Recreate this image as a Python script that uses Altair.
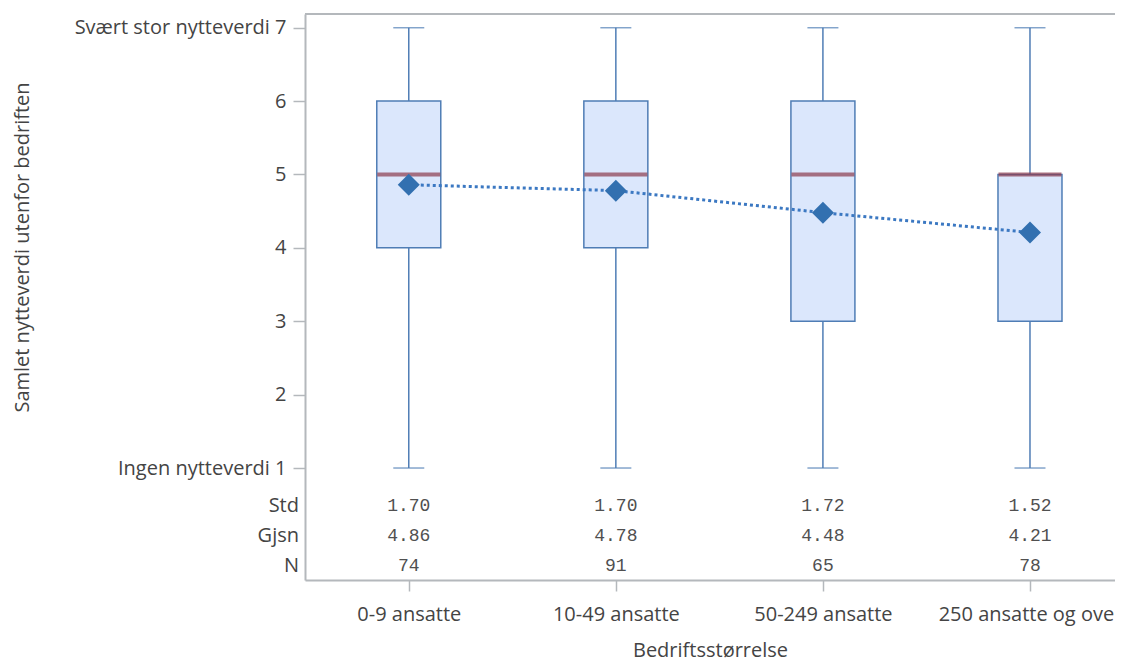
import altair as alt
import pandas as pd

categories = ["0-9 ansatte", "10-49 ansatte", "50-249 ansatte", "250 ansatte og over"]
whisker_low = [1, 1, 1, 1]
q1 = [4, 4, 3, 3]
median = [5, 5, 5, 5]
q3 = [6, 6, 6, 5]
whisker_high = [7, 7, 7, 7]
means = [4.86, 4.78, 4.48, 4.21]
std = [1.70, 1.70, 1.72, 1.52]
n = [74, 91, 65, 78]
ytick_values = [1, 2, 3, 4, 5, 6, 7]
ytick_labels = ["Ingen nytteverdi 1", "2", "3", "4", "5", "6", "Svært stor nytteverdi 7"]
stat_rows = ["Std", "Gjsn", "N"]

idx = list(range(len(categories)))
df = pd.DataFrame({
    "idx": idx, "cat": categories, "lo": whisker_low, "q1": q1, "med": median,
    "q3": q3, "hi": whisker_high, "mean": means, "std": std, "n": n,
})

y_label_expr = " : ".join(
    f"datum.value == {v} ? '{l}'" for v, l in zip(ytick_values, ytick_labels)
) + " : datum.label"
x_label_expr = " : ".join(
    f"datum.value == {i} ? '{c}'" for i, c in zip(idx, categories)
) + " : ''"

GREY = "#b4b8bc"
TXT = "#444444"
BLUE_LINE = "#4f7db5"
FONT = "Open Sans"

PLOT_W = 810
PLOT_H = 566

xscale = alt.Scale(domain=[-0.477, 3.3864], nice=False, zero=False)
xenc = alt.X(
    "idx:Q", scale=xscale,
    axis=alt.Axis(values=idx, labelExpr=x_label_expr, grid=False, labelAngle=0,
                  tickSize=11, title="Bedriftsstørrelse", titlePadding=16, labelPadding=13,
                  titleFontSize=20, titleFontWeight="normal", titleColor=TXT),
)
xe = alt.X("idx:Q", scale=xscale)
yscale = alt.Scale(domain=[-0.526, 7.187], nice=False, zero=False)
yenc = alt.Y(
    "q1:Q", scale=yscale,
    axis=alt.Axis(values=ytick_values, labelExpr=y_label_expr, grid=False,
                  tickSize=12, labelPadding=7,
                  title="Samlet nytteverdi utenfor bedriften", titleFontSize=20,
                  titleFontWeight="normal", titleColor=TXT, titleX=-283, titleY=233,
                  titleAngle=-90, titleAlign="center", titleBaseline="middle"),
)

base = alt.Chart(df)

border = base.mark_rule(color=GREY, strokeWidth=2).encode(
    x=alt.value(0), x2=alt.value(PLOT_W + 20), y=alt.value(0))
box = base.mark_bar(size=64, fill="#dbe7fc", stroke=BLUE_LINE, strokeWidth=1.5).encode(
    x=xenc, y=yenc, y2="q3:Q")
wlow = base.mark_rule(color=BLUE_LINE, strokeWidth=1.5).encode(
    x=xe, y=alt.Y("lo:Q", scale=yscale), y2="q1:Q")
whigh = base.mark_rule(color=BLUE_LINE, strokeWidth=1.5).encode(
    x=xe, y=alt.Y("q3:Q", scale=yscale), y2="hi:Q")
cap_lo = base.mark_tick(size=31, thickness=1.5, color=BLUE_LINE, orient="horizontal").encode(
    x=xe, y=alt.Y("lo:Q", scale=yscale))
cap_hi = base.mark_tick(size=31, thickness=1.5, color=BLUE_LINE, orient="horizontal").encode(
    x=xe, y=alt.Y("hi:Q", scale=yscale))
med = base.mark_tick(size=63, thickness=4, color="#8c3b4d", orient="horizontal").encode(
    x=xe, y=alt.Y("med:Q", scale=yscale))
mline = base.mark_line(color="#3b78c2", strokeWidth=3, strokeDash=[3, 3]).encode(
    x=xe, y=alt.Y("mean:Q", scale=yscale))
mpts = base.mark_point(shape="diamond", filled=True, size=484, color="#3270b0", opacity=1).encode(
    x=xe, y=alt.Y("mean:Q", scale=yscale))

row_y = [492, 522, 552]
row_fields = [("std", ".2f"), ("mean", ".2f"), ("n", "d")]
stat_layers = []
for name, ypx, (field, fmt) in zip(stat_rows, row_y, row_fields):
    stat_layers.append(
        base.mark_text(font="Liberation Mono", fontSize=18, color="#505050", baseline="middle").encode(
            x=xe, y=alt.value(ypx), text=alt.Text(f"{field}:Q", format=fmt)))
    stat_layers.append(
        alt.Chart(pd.DataFrame({"lab": [name]})).mark_text(
            font=FONT, fontSize=20, color=TXT, align="right", baseline="middle").encode(
            x=alt.value(-6), y=alt.value(ypx), text="lab:N"))

chart = alt.layer(border, box, wlow, whigh, cap_lo, cap_hi, med, mline, mpts, *stat_layers).properties(
    width=PLOT_W, height=PLOT_H,
    autosize=alt.AutoSizeParams(type="none"),
    padding={"left": 297, "top": 6, "right": 0, "bottom": 83},
).configure_view(stroke=None).configure_axis(
    labelFont=FONT, labelFontSize=20, labelColor=TXT, titleFont=FONT, labelLimit=400,
    domainColor=GREY, domainWidth=2, tickColor=GREY, tickWidth=1.5,
)

chart.save("out.html", embed_options={"renderer": "svg", "actions": False})
